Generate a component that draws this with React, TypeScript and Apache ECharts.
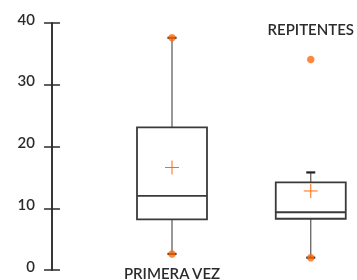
import React, { useEffect, useRef } from "react";
import * as echarts from "echarts";

const categories = ["PRIMERA VEZ", "REPITENTES"];
const lowerWhisker = [2.6, 2.0];
const q1 = [8.2, 8.3];
const median = [12.0, 9.35];
const q3 = [23.1, 14.2];
const upperWhisker = [37.6, 15.8];
const means = [16.6, 12.8];
// data minima / maxima (orange dots): [category index, value]
const extremes: [number, number][] = [
  [0, 37.6],
  [0, 2.6],
  [1, 34.1],
  [1, 2.0],
];
const yTicks = { min: 0, max: 40, interval: 10 };

const FONT = "Lato, 'Open Sans', sans-serif";
const DARK = "#2b2b2b";
const ORANGE = "#ff6a0d";

export default function App() {
  const ref = useRef<HTMLDivElement>(null);
  useEffect(() => {
    if (!ref.current) return;
    const chart = echarts.init(ref.current, undefined, { renderer: "svg" });
    const rows = categories.map((_, i) => [
      i,
      lowerWhisker[i],
      q1[i],
      median[i],
      q3[i],
      upperWhisker[i],
      means[i],
    ]);
    const yBase = {
      type: "value",
      min: yTicks.min,
      max: yTicks.max,
      interval: yTicks.interval,
      position: "left",
      offset: 120,
      splitLine: { show: false },
    };
    chart.setOption({
      animation: false,
      grid: { left: 172, right: 45, top: 23, bottom: 10 },
      xAxis: [
        {
          type: "category",
          data: categories,
          boundaryGap: false,
          position: "bottom",
          axisLine: { show: false },
          axisTick: { show: false },
          axisLabel: {
            margin: -5,
            fontFamily: FONT,
            fontSize: 15,
            fontWeight: 600,
            color: DARK,
            formatter: (v: string, i: number) => (i === 0 ? v : ""),
          },
        },
        {
          type: "category",
          data: categories,
          boundaryGap: false,
          position: "top",
          axisLine: { show: false },
          axisTick: { show: false },
          axisLabel: {
            inside: true,
            margin: -2,
            fontFamily: FONT,
            fontSize: 15,
            fontWeight: 600,
            color: DARK,
            formatter: (v: string, i: number) => (i === 1 ? v : ""),
          },
        },
      ],
      yAxis: [
        {
          ...yBase,
          axisLine: { show: true, lineStyle: { color: DARK, width: 1.5 } },
          axisTick: { show: true, length: 8, lineStyle: { color: DARK, width: 1.5 } },
          axisLabel: {
            margin: 17,
            fontFamily: FONT,
            fontSize: 15,
            fontWeight: 600,
            color: DARK,
            verticalAlign: "bottom",
            lineHeight: 9,
          },
        },
        {
          ...yBase,
          axisLine: { show: true, lineStyle: { color: DARK, width: 1.5 } },
          axisTick: { show: true, inside: true, length: 8, lineStyle: { color: DARK, width: 1.5 } },
          axisLabel: { show: false },
        },
      ],
      series: [
        {
          type: "custom",
          xAxisIndex: 0,
          yAxisIndex: 0,
          data: rows,
          encode: { x: 0, y: [1, 2, 3, 4, 5, 6] },
          renderItem: (params: any, api: any) => {
            const x = api.value(0);
            const c = (v: number) => api.coord([x, v]);
            const [cx, yLw] = c(api.value(1));
            const yQ1 = c(api.value(2))[1];
            const yMed = c(api.value(3))[1];
            const yQ3 = c(api.value(4))[1];
            const yUw = c(api.value(5))[1];
            const yMean = c(api.value(6))[1];
            const half = 35;
            const cap = 4.5;
            const cross = 7;
            const whisk = { stroke: "#555", lineWidth: 1.2 };
            const capStyle = { stroke: "#222", lineWidth: 2.2 };
            const boxStyle = { stroke: "#3a3a3a", lineWidth: 1.8, fill: "none" };
            const meanStyle = { stroke: ORANGE, lineWidth: 1 };
            return {
              type: "group",
              children: [
                { type: "line", shape: { x1: cx, y1: yQ3, x2: cx, y2: yUw }, style: whisk },
                { type: "line", shape: { x1: cx, y1: yQ1, x2: cx, y2: yLw }, style: whisk },
                { type: "line", shape: { x1: cx - cap, y1: yUw, x2: cx + cap, y2: yUw }, style: capStyle },
                { type: "line", shape: { x1: cx - cap, y1: yLw, x2: cx + cap, y2: yLw }, style: capStyle },
                {
                  type: "rect",
                  shape: { x: cx - half, y: yQ3, width: half * 2, height: yQ1 - yQ3 },
                  style: boxStyle,
                },
                { type: "line", shape: { x1: cx - half, y1: yMed, x2: cx + half, y2: yMed }, style: boxStyle },
                { type: "line", shape: { x1: cx - cross, y1: yMean, x2: cx + cross, y2: yMean }, style: meanStyle },
                { type: "line", shape: { x1: cx, y1: yMean - cross, x2: cx, y2: yMean + cross }, style: meanStyle },
              ],
            };
          },
          z: 2,
        },
        {
          type: "scatter",
          xAxisIndex: 0,
          yAxisIndex: 0,
          data: extremes,
          symbol: "circle",
          symbolSize: 7.5,
          itemStyle: { color: ORANGE },
          z: 5,
        },
      ],
    });
    return () => chart.dispose();
  }, []);
  return (
    <div
      ref={ref}
      style={{ position: "fixed", left: 0, top: 0, width: 357, height: 280 }}
    />
  );
}
